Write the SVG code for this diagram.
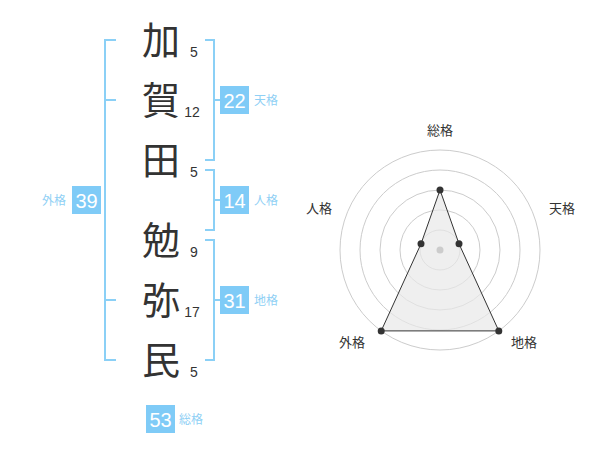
<svg xmlns="http://www.w3.org/2000/svg" width="600" height="470" viewBox="0 0 600 470">
<style>
.k{font-family:"Noto Sans CJK JP","Noto Sans CJK SC",sans-serif;font-size:38px;fill:#333;text-anchor:middle}
.n{font-family:"Liberation Sans",Arial,sans-serif;font-size:14px;fill:#333;text-anchor:middle}
.br{fill:none;stroke:#8bd0f6;stroke-width:2}
.bx{fill:#7fcbf7}
.bv{font-family:"Liberation Sans",Arial,sans-serif;font-size:20px;fill:#fff;text-anchor:middle}
.bl{font-family:"Noto Sans CJK JP","Noto Sans CJK SC",sans-serif;font-size:12px;fill:#8fd0f5}
.rl{font-family:"Noto Sans CJK JP","Noto Sans CJK SC",sans-serif;font-size:13px;fill:#333;text-anchor:middle}
.ring{fill:none;stroke:#ccc;stroke-width:1}
.pt{fill:#333}
</style>
<g id="chars">
<text class="k" x="161" y="54">加</text>
<text class="k" x="161" y="114">賀</text>
<text class="k" x="161" y="174">田</text>
<text class="k" x="161" y="254">勉</text>
<text class="k" x="161" y="314">弥</text>
<text class="k" x="161" y="374">民</text>
</g>
<g id="strokes">
<text class="n" x="194" y="57">5</text>
<text class="n" x="192" y="117">12</text>
<text class="n" x="194" y="177">5</text>
<text class="n" x="194" y="257">9</text>
<text class="n" x="192" y="317">17</text>
<text class="n" x="194" y="377">5</text>
</g>
<g id="connectors">
<path class="br" d="M116,40 H105 V360 H116 M105,100 H116 M105,300 H116"/>
<path class="br" d="M205,40 H214 V160 H205 M214,100 H220"/>
<path class="br" d="M205,170 H214 V230 H205 M214,200 H220"/>
<path class="br" d="M205,240 H214 V360 H205 M214,300 H220"/>
</g>
<g id="tenkaku">
<rect class="bx" x="220" y="86" width="29" height="28"/>
<text class="bv" x="234.5" y="108">22</text>
<text class="bl" x="254" y="105">天格</text>
</g>
<g id="jinkaku">
<rect class="bx" x="220" y="186" width="29" height="28"/>
<text class="bv" x="234.5" y="208">14</text>
<text class="bl" x="254" y="205">人格</text>
</g>
<g id="chikaku">
<rect class="bx" x="220" y="286" width="29" height="28"/>
<text class="bv" x="234.5" y="308">31</text>
<text class="bl" x="254" y="305">地格</text>
</g>
<g id="gaikaku">
<rect class="bx" x="72" y="186" width="29" height="28"/>
<text class="bv" x="86.5" y="208">39</text>
<text class="bl" x="42" y="205">外格</text>
</g>
<g id="soukaku">
<rect class="bx" x="146" y="405" width="29" height="28"/>
<text class="bv" x="160.5" y="427">53</text>
<text class="bl" x="179" y="424">総格</text>
</g>
<g id="radar">
<circle class="ring" cx="440" cy="250" r="20"/>
<circle class="ring" cx="440" cy="250" r="40"/>
<circle class="ring" cx="440" cy="250" r="60"/>
<circle class="ring" cx="440" cy="250" r="80"/>
<circle class="ring" cx="440" cy="250" r="100"/>
<polygon points="440,190 459,243.8 498.8,330.9 381.2,330.9 421,243.8" fill="#e8e8e8" fill-opacity="0.7" stroke="#333" stroke-width="1"/>
<circle cx="440" cy="250" r="3.5" fill="#ccc"/>
<circle class="pt" cx="440" cy="190" r="3.5"/>
<circle class="pt" cx="459" cy="243.8" r="3.5"/>
<circle class="pt" cx="498.8" cy="330.9" r="3.5"/>
<circle class="pt" cx="381.2" cy="330.9" r="3.5"/>
<circle class="pt" cx="421" cy="243.8" r="3.5"/>
<text class="rl" x="440" y="135">総格</text>
<text class="rl" x="562" y="213">天格</text>
<text class="rl" x="319" y="213">人格</text>
<text class="rl" x="352" y="347">外格</text>
<text class="rl" x="524" y="347">地格</text>
</g>
</svg>
